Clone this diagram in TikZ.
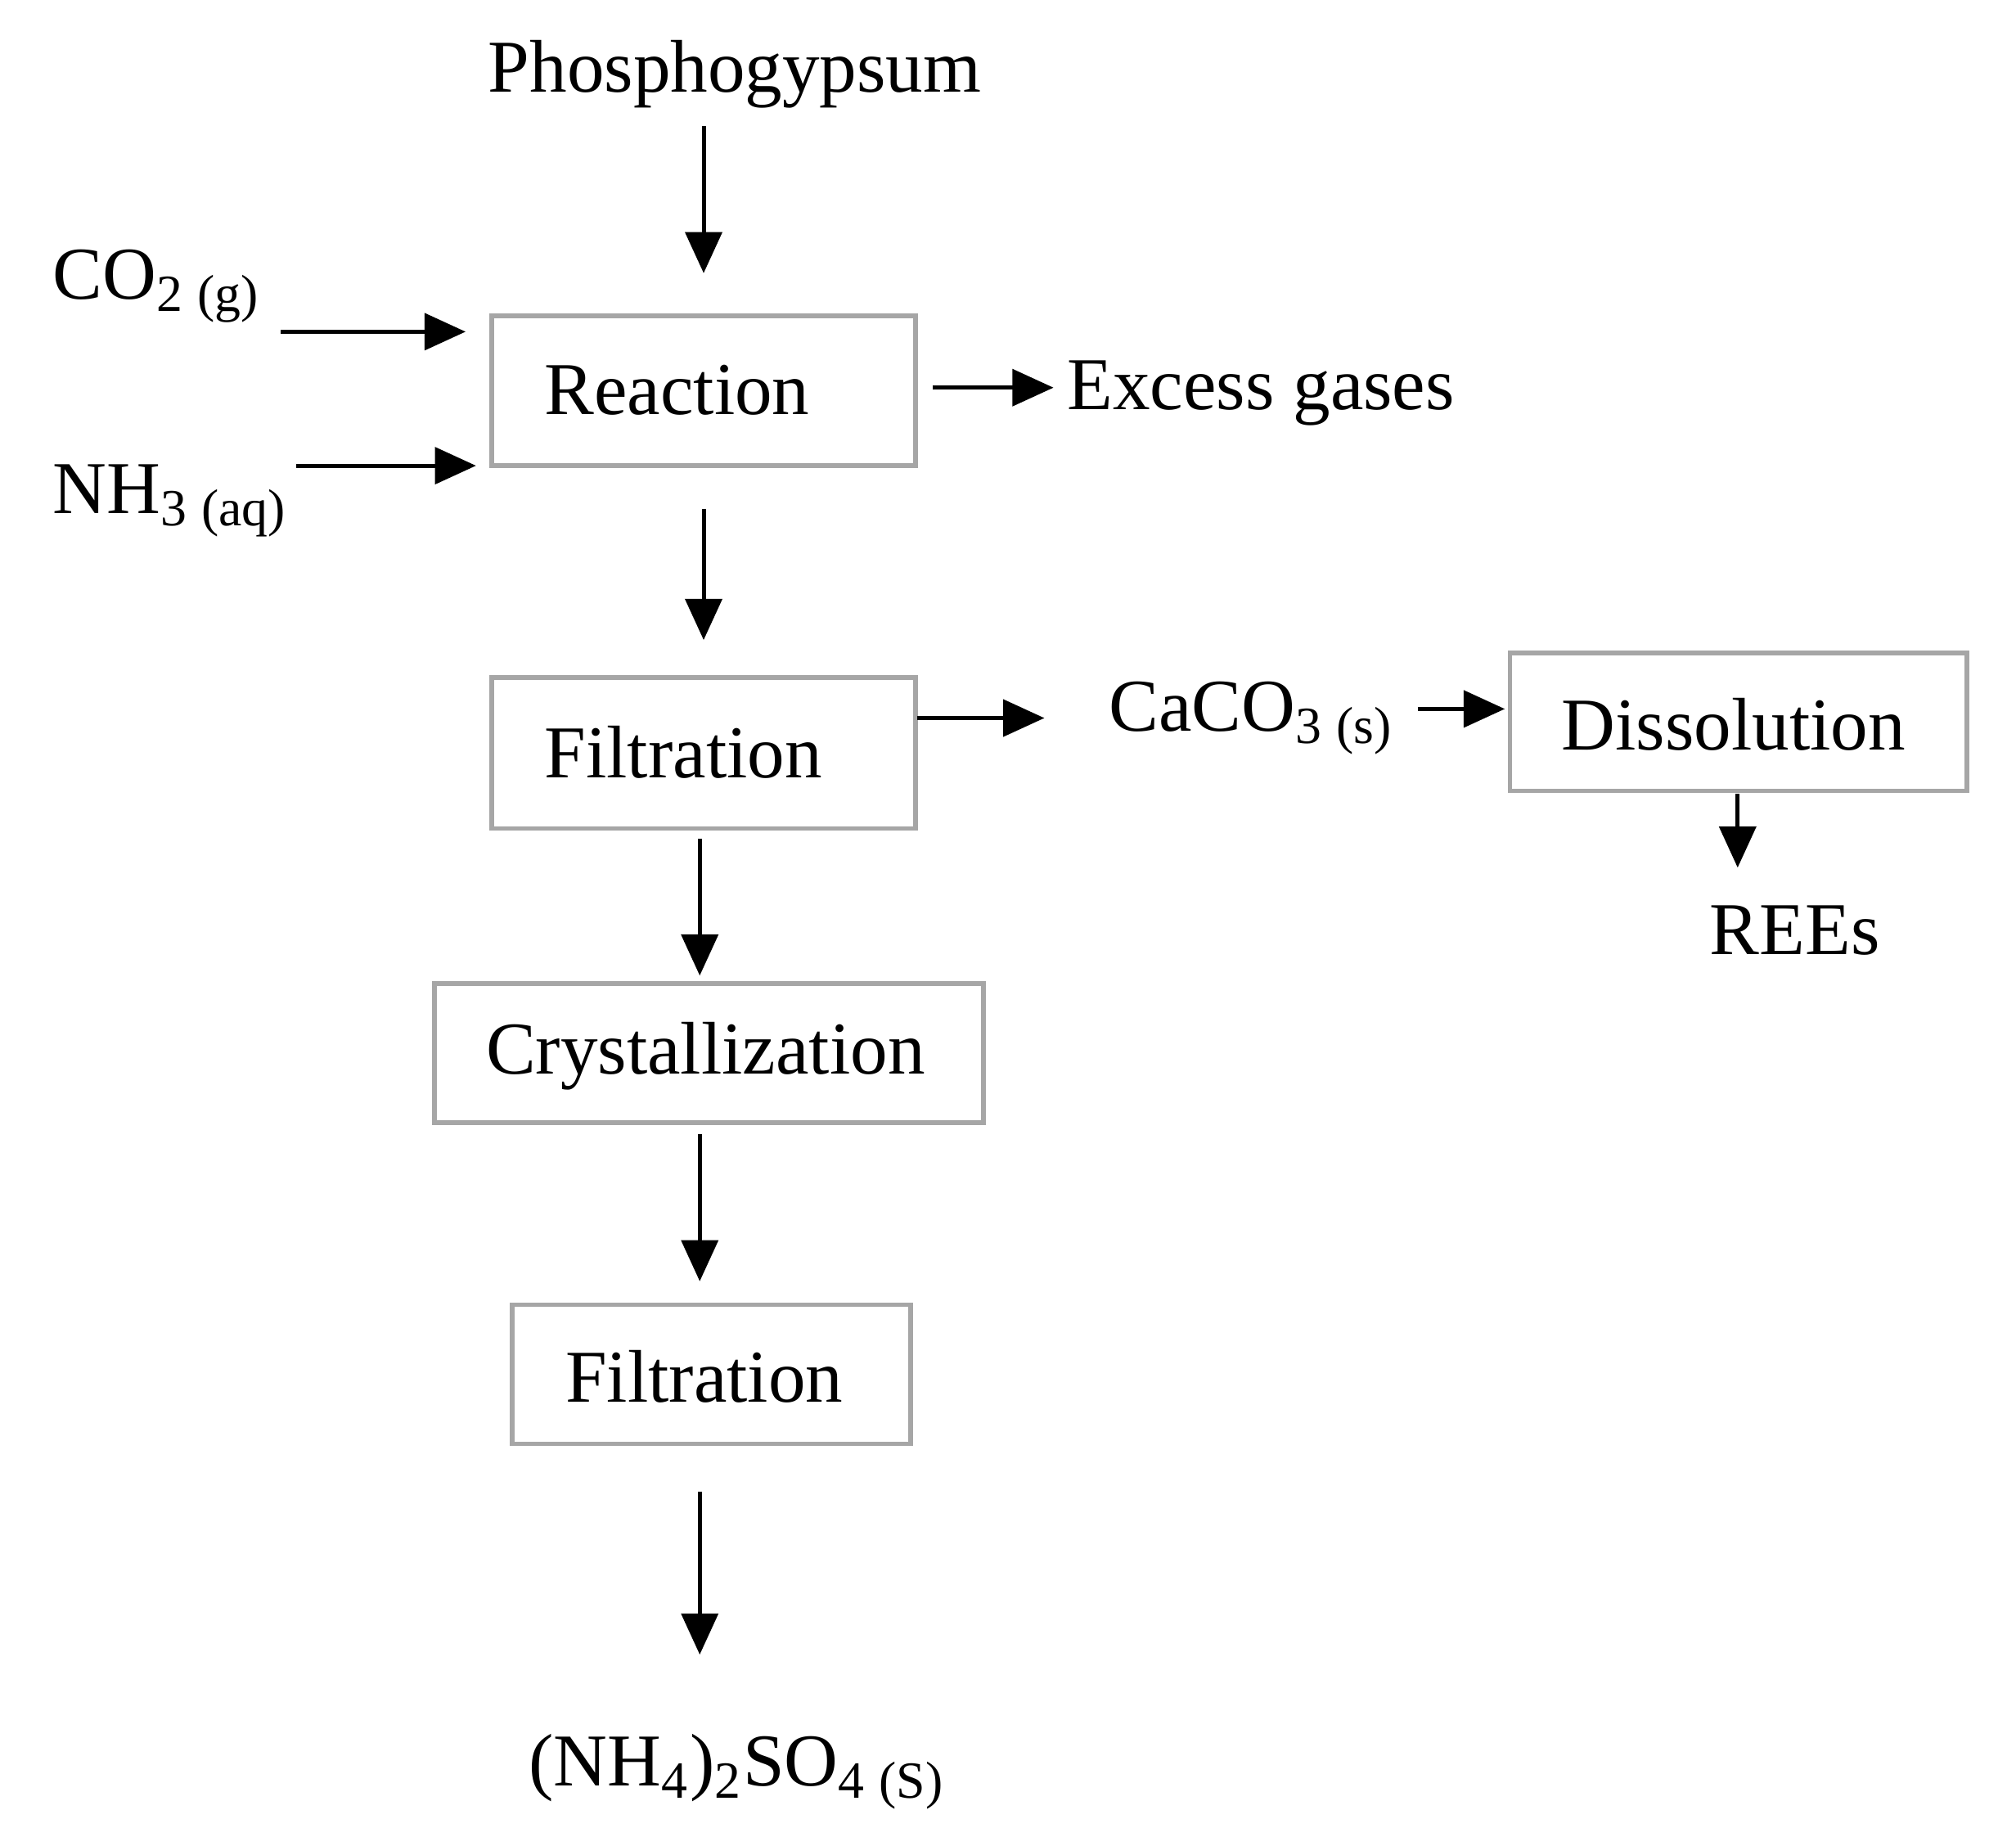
\documentclass[tikz,border=0pt]{standalone}
\usepackage{fontspec}
\setmainfont{Liberation Serif}
\usetikzlibrary{arrows.meta}
\begin{document}
\begin{tikzpicture}[x=0.01cm,y=-0.01cm,
 box/.style={draw=gray!70,line width=1pt,inner sep=0pt},
 lbl/.style={font=\fontsize{16.3}{19}\selectfont,inner sep=0pt},
 arr/.style={line width=0.9pt,-{Triangle[length=9pt,width=8pt]}}]
\useasboundingbox (0,0) rectangle (1550,1405);
\node[box,minimum width=3.26cm,minimum height=1.15cm] (r) at (541,300.5) {};
\node[lbl,anchor=west] at (418,300) {Reaction};
\node[box,minimum width=3.26cm,minimum height=1.16cm] (f1) at (541,579) {};
\node[lbl,anchor=west] at (418,578) {Filtration};
\node[box,minimum width=4.22cm,minimum height=1.07cm] (c) at (545,809.5) {};
\node[lbl,anchor=west] at (373,812) {Crystallization};
\node[box,minimum width=3.06cm,minimum height=1.07cm] (f2) at (547,1056.5) {};
\node[lbl,anchor=west] at (434,1058) {Filtration};
\node[box,minimum width=3.51cm,minimum height=1.06cm] (d) at (1336.5,555) {};
\node[lbl,anchor=west] at (1200,557) {Dissolution};

\node[lbl] (p) at (565,57) {Phosphogypsum};
\node[lbl,anchor=west] (co) at (40,220) {CO\textsubscript{2}\,\textsubscript{(g)}};
\node[lbl,anchor=west] (nh) at (40,385) {NH\textsubscript{3}\,\textsubscript{(aq)}};
\node[lbl,anchor=west] (ex) at (820,302) {Excess gases};
\node[lbl,anchor=west] (ca) at (852,552) {CaCO\textsubscript{3}\,\textsubscript{(s)}};
\node[lbl] (ree) at (1380,715) {REEs};
\node[lbl,anchor=west] (am) at (406,1362) {(NH\textsubscript{4})\textsubscript{2}SO\textsubscript{4}\,\textsubscript{(S)}};

\coordinate (a1) at (541,97); \coordinate (a2) at (541,210);
\draw[arr] (a1) -- (a2);
\coordinate (b1) at (541,391); \coordinate (b2) at (541,492);
\draw[arr] (b1) -- (b2);
\coordinate (c1) at (538,645); \coordinate (c2) at (538,750);
\draw[arr] (c1) -- (c2);
\coordinate (d1) at (538,872); \coordinate (d2) at (538,985);
\draw[arr] (d1) -- (d2);
\coordinate (e1) at (538,1147); \coordinate (e2) at (538,1272);
\draw[arr] (e1) -- (e2);
\coordinate (g1) at (216,255); \coordinate (g2) at (358,255);
\draw[arr] (g1) -- (g2);
\coordinate (h1) at (228,358); \coordinate (h2) at (366,358);
\draw[arr] (h1) -- (h2);
\coordinate (i1) at (717,298); \coordinate (i2) at (810,298);
\draw[arr] (i1) -- (i2);
\coordinate (j1) at (705,552); \coordinate (j2) at (803,552);
\draw[arr] (j1) -- (j2);
\coordinate (k1) at (1090,545); \coordinate (k2) at (1157,545);
\draw[arr] (k1) -- (k2);
\coordinate (l1) at (1336,610); \coordinate (l2) at (1336,667);
\draw[arr] (l1) -- (l2);
\end{tikzpicture}
\end{document}
